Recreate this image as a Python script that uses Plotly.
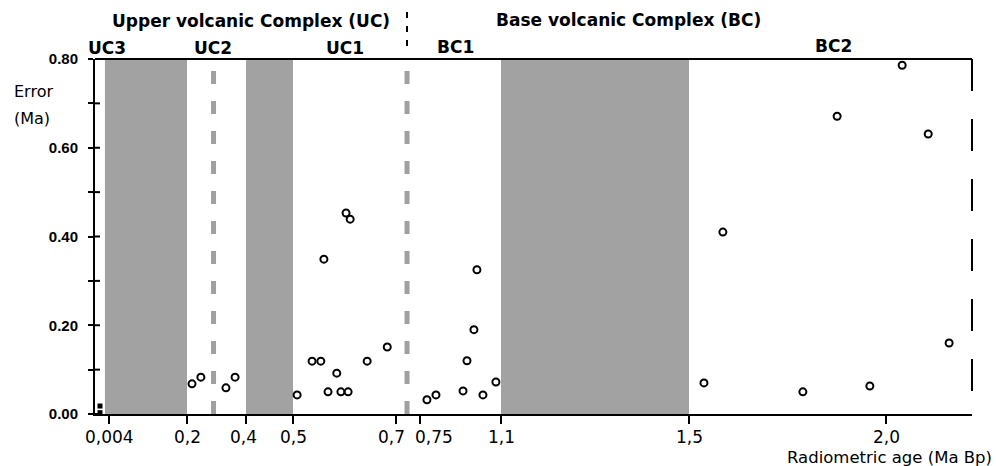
import numpy as np
import plotly.graph_objects as go

# ---------------- data (age in Ma, error in Ma) ----------------
uc_age = [0.217, 0.247, 0.332, 0.363, 0.508, 0.537, 0.554, 0.560, 0.568, 0.585,
          0.593, 0.603, 0.607, 0.611, 0.644, 0.683]
uc_err = [0.068, 0.083, 0.059, 0.083, 0.043, 0.119, 0.119, 0.349, 0.050, 0.092,
          0.050, 0.453, 0.050, 0.439, 0.119, 0.151]

bc_age = [0.780, 0.819, 0.936, 0.953, 0.983, 0.996, 1.022, 1.078,
          1.538, 1.586, 1.789, 1.876, 1.959, 2.041, 2.107, 2.160]
bc_err = [0.032, 0.043, 0.052, 0.120, 0.190, 0.325, 0.043, 0.072,
          0.070, 0.410, 0.050, 0.671, 0.063, 0.786, 0.631, 0.160]

recent_age = [0.0, 0.0]
recent_err = [0.018, 0.003]

tick_ages = [0.004, 0.2, 0.4, 0.5, 0.7, 0.75, 1.1, 1.5, 2.0]
tick_labels = ["0,004", "0,2", "0,4", "0,5", "0,7", "0,75", "1,1", "1,5", "2,0"]
tick_label_shift = [0, 0, -3, 0, -5, 14, 0, 0, 0]   # label offsets (px) as drawn in the source

band_start = [0.0022, 0.4, 1.1]
band_end = [0.2, 0.5, 1.5]
boundary_ages = [0.29, 0.723]
y_major = [0.0, 0.2, 0.4, 0.6, 0.8]
y_minor = [0.1, 0.3, 0.5, 0.7]

# ---------------- broken (piecewise) age scale of the x axis ----------------
SCALE_AGE = [-0.0022, 0.0, 0.004, 0.2, 0.4, 0.5, 0.7, 0.75, 1.1, 1.5, 2.0, 2.218]
SCALE_POS = [95, 100, 109, 187, 246, 293, 396, 420, 501, 689, 886, 972]


def sx(a):
    return np.interp(np.asarray(a, dtype=float), SCALE_AGE, SCALE_POS)


W, H = 996, 466
L, R, T, B = 95, 24, 59, 52
PW, PH = W - L - R, H - T - B


def px(x):
    return (x - L) / PW


def py(y):
    return (H - B - y) / PH


FONT = "Liberation Sans, Arial, sans-serif"
WIDE = "DejaVu Sans, Verdana, sans-serif"

fig = go.Figure()

fig.add_trace(go.Scatter(
    x=sx(uc_age), y=uc_err, mode="markers", name="UC",
    marker=dict(symbol="circle-open", size=7, color="black", line=dict(width=2, color="black")),
    showlegend=False, cliponaxis=False))
fig.add_trace(go.Scatter(
    x=sx(bc_age), y=bc_err, mode="markers", name="BC",
    marker=dict(symbol="circle-open", size=7, color="black", line=dict(width=2, color="black")),
    showlegend=False, cliponaxis=False))
fig.add_trace(go.Scatter(
    x=sx(recent_age), y=recent_err, mode="markers", name="recent",
    marker=dict(symbol="square", size=5, color="black"),
    showlegend=False, cliponaxis=False))

shapes = []
for a0, a1 in zip(band_start, band_end):
    shapes.append(dict(type="rect", xref="x", yref="paper", x0=float(sx(a0)), x1=float(sx(a1)),
                       y0=0, y1=1, fillcolor="#a2a2a2", line=dict(width=0), layer="below"))
for a in boundary_ages:
    shapes.append(dict(type="line", xref="x", yref="paper", x0=float(sx(a)), x1=float(sx(a)),
                       y0=0, y1=1, line=dict(color="#a0a0a0", width=5, dash="13px,17px"),
                       layer="below"))
# frame: solid top, dashed right
shapes.append(dict(type="line", xref="paper", yref="paper", x0=0, x1=1, y0=1, y1=1,
                   line=dict(color="black", width=2)))
shapes.append(dict(type="line", xref="paper", yref="paper", x0=1, x1=1, y0=1, y1=0,
                   line=dict(color="black", width=2, dash="32px,28px")))
# inner halves of y ticks (ticks cross the axis)
for v in y_major + y_minor:
    shapes.append(dict(type="line", xref="paper", yref="y", xsizemode="pixel", xanchor=0,
                       x0=0, x1=5, y0=v, y1=v, line=dict(color="black", width=2)))
# y axis extends slightly below zero
shapes.append(dict(type="line", xref="paper", yref="y", ysizemode="pixel", yanchor=0,
                   x0=0, x1=0, y0=-6, y1=0, line=dict(color="black", width=2)))
# dashed separator between UC and BC above the plot
sep_x = px(407)
shapes.append(dict(type="line", xref="paper", yref="paper", x0=sep_x, x1=sep_x,
                   y0=py(12), y1=py(54), line=dict(color="black", width=2, dash="6px,8px")))

ann = []


def add_text(text, x, y, size, bold=False, xanchor="center", family=WIDE):
    ann.append(dict(text=text, xref="paper", yref="paper", x=px(x), y=py(y),
                    xanchor=xanchor, yanchor="middle", showarrow=False,
                    font=dict(family=family, size=size, color="black",
                              weight="bold" if bold else "normal")))


add_text("Upper volcanic Complex (UC)", 251, 21, 17, True)
add_text("Base volcanic Complex (BC)", 628, 20, 17, True)
for t, x, y in [("UC3", 107, 48), ("UC2", 213, 48), ("UC1", 345, 48),
                ("BC1", 455, 47), ("BC2", 833, 46)]:
    add_text(t, x, y, 17, True)
add_text("Error", 12, 91, 16, False, "left")
add_text("(Ma)", 12, 118, 16, False, "left")
add_text("Radiometric age (Ma Bp)", 994, 457, 16.5, False, "right")

# x tick labels, placed at the axis scale positions of the tick ages
for a, lab, sh in zip(tick_ages, tick_labels, tick_label_shift):
    ann.append(dict(text=lab, xref="x", yref="paper", x=float(sx(a)), y=py(437),
                    xshift=sh, xanchor="center", yanchor="middle", showarrow=False,
                    font=dict(family=WIDE, size=17, color="black")))

fig.update_layout(
    width=W, height=H,
    margin=dict(l=L, r=R, t=T, b=B, pad=0, autoexpand=False),
    paper_bgcolor="white", plot_bgcolor="white",
    shapes=shapes, annotations=ann,
    font=dict(family=FONT, color="black"),
    hovermode=False,
    xaxis=dict(range=[SCALE_POS[0], SCALE_POS[-1]], tickvals=list(sx(tick_ages)),
               showticklabels=False, showgrid=False, zeroline=False, automargin=False,
               showline=True, linecolor="black", linewidth=2,
               ticks="outside", ticklen=8, tickwidth=2, tickcolor="black"),
    yaxis=dict(range=[0, 0.8], tickvals=y_major, tickformat=".2f", automargin=False,
               showgrid=False, zeroline=False,
               showline=True, linecolor="black", linewidth=2,
               ticks="outside", ticklen=5, tickwidth=2, tickcolor="black",
               minor=dict(tickvals=y_minor, ticks="outside", ticklen=5, tickwidth=2,
                          tickcolor="black"),
               tickfont=dict(family=FONT, size=15, color="black", weight="bold"),
               ticklabelstandoff=7),
)

fig.write_html("out.html", config={"displayModeBar": False, "staticPlot": True},
               post_script="document.body.style.margin='0';document.body.style.overflow='hidden';")
